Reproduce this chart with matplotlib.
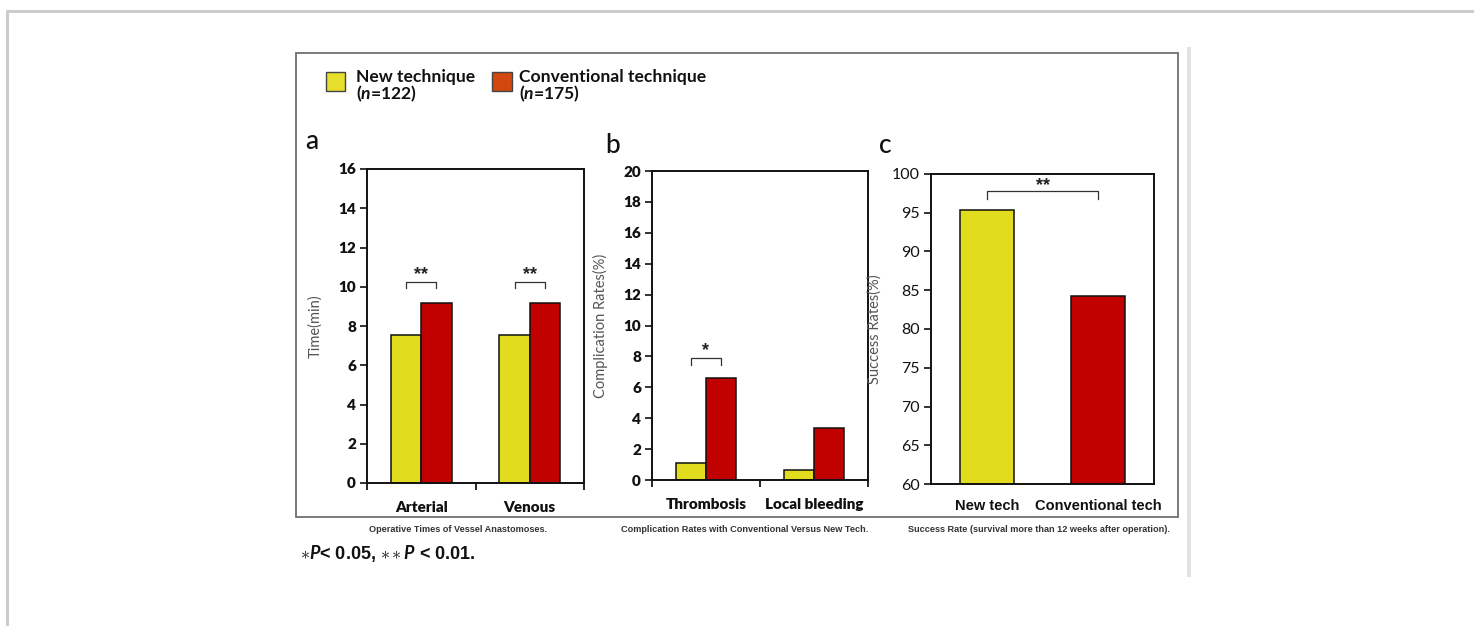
import matplotlib
matplotlib.use("Agg")
import matplotlib.pyplot as plt
from matplotlib.patches import Rectangle
from matplotlib.lines import Line2D
import numpy as np

# ---------------- data ----------------
series_names = ["New technique", "Conventional technique"]
series_n = [122, 175]

a_categories = ["Arterial", "Venous"]
a_new = [7.55, 7.55]
a_conv = [9.15, 9.15]
a_sig = ["**", "**"]
a_bracket = [10.25, 10.25]

b_categories = ["Thrombosis", "Local bleeding"]
b_new = [1.12, 0.65]
b_conv = [6.58, 3.35]
b_sig = ["*", ""]
b_bracket = [7.9, None]

c_categories = ["New tech", "Conventional tech"]
c_values = [95.3, 84.3]
c_sig = "**"
c_bracket = 97.8

ylabels = ["Time(min)", "Complication Rates(%)", "Success Rates(%)"]
ylims = [(0, 16), (0, 20), (60, 100)]
ysteps = [2, 2, 5]
captions = ["Operative Times of Vessel Anastomoses.",
            "Complication Rates with Conventional Versus New Tech.",
            "Success Rate (survival more than 12 weeks after operation)."]
panel_letters = ["a", "b", "c"]

# ---------------- style ----------------
YELLOW = "#e1dd1e"
RED = "#c10000"
LEG_YELLOW = "#e6df2c"
LEG_RED = "#d3480f"

plt.rcParams["font.family"] = ["Lato", "DejaVu Sans"]
plt.rcParams["mathtext.fontset"] = "custom"
plt.rcParams["mathtext.rm"] = "Lato:bold"
plt.rcParams["mathtext.it"] = "Lato:bold:italic"

W, H = 1474, 626
fig = plt.figure(figsize=(W / 100, H / 100), dpi=100)
fig.patch.set_facecolor("white")


def fx(x):
    return x / W


def fy(y):
    return 1 - y / H


def add_rect(x0, y0, x1, y1, **kw):
    fig.add_artist(Rectangle((fx(x0), fy(y1)), fx(x1) - fx(x0), fy(y0) - fy(y1),
                             transform=fig.transFigure, **kw))


def add_line(xs, ys, **kw):
    fig.add_artist(Line2D([fx(v) for v in xs], [fy(v) for v in ys],
                          transform=fig.transFigure, **kw))


# outer page frame
add_line([7, 7, 1474], [626, 11, 11], color="#cccccc", lw=2.2)
# inner figure frame
add_rect(296, 53, 1178, 517, fill=False, edgecolor="#6e6e6e", lw=1.3)
# grey separator on right
add_rect(1187, 47, 1191, 577, facecolor="#e2e2e2", edgecolor="none")

# legend
add_rect(326, 72, 345, 91, facecolor=LEG_YELLOW, edgecolor="#444444", lw=1.0)
add_rect(492, 72, 512, 91, facecolor=LEG_RED, edgecolor="#444444", lw=1.0)
leg_fs = 12.6
fig.text(fx(356), fy(77), series_names[0], fontsize=leg_fs, fontweight="bold",
         ha="left", va="center", color="#111111")
fig.text(fx(356), fy(94), r"($\mathit{n}$=%d)" % series_n[0], fontsize=leg_fs,
         fontweight="bold", ha="left", va="center", color="#111111")
fig.text(fx(519), fy(77), series_names[1], fontsize=leg_fs, fontweight="bold",
         ha="left", va="center", color="#111111")
fig.text(fx(519), fy(94), r"($\mathit{n}$=%d)" % series_n[1], fontsize=leg_fs,
         fontweight="bold", ha="left", va="center", color="#111111")

# axes boxes (pixel extents)
boxes = [(367, 169, 584, 483), (652, 171, 868, 480), (931, 174, 1154, 484)]
axes = []
for (x0, y0, x1, y1) in boxes:
    ax = fig.add_axes([fx(x0), fy(y1), fx(x1) - fx(x0), fy(y0) - fy(y1)])
    axes.append(ax)

letter_pos = [(312, 142), (613, 145), (885, 145)]
ylabel_x = [-0.205, -0.205, -0.22]
caption_pos = [(458, 529), (745, 529), (1039, 529)]


def style_axis(ax, i, bold_ticks=True):
    for s in ax.spines.values():
        s.set_linewidth(1.4)
        s.set_color("#111111")
    lo, hi = ylims[i]
    ax.set_ylim(lo, hi)
    ax.set_yticks(np.arange(lo, hi + 0.01, ysteps[i]))
    ax.tick_params(axis="y", direction="out", length=5, width=1.2,
                   labelsize=11 if bold_ticks else 11.5, pad=3, colors="#111111")
    for t in ax.get_yticklabels():
        t.set_fontweight("heavy" if bold_ticks else "normal")
    ax.set_ylabel(ylabels[i], fontsize=10.5, color="#555555")
    ax.yaxis.set_label_coords(ylabel_x[i], 0.5)
    fig.text(fx(letter_pos[i][0]), fy(letter_pos[i][1]), panel_letters[i],
             fontsize=19, ha="center", va="center", color="#111111",
             fontweight="medium")
    fig.text(fx(caption_pos[i][0]), fy(caption_pos[i][1]), captions[i],
             fontsize=6.6, ha="center", va="center", color="#333333",
             family=["Liberation Sans", "DejaVu Sans"], fontweight="bold")


def bracket(ax, x0, x1, y, label, drop, star_off):
    ax.plot([x0, x0, x1, x1], [y - drop, y, y, y - drop], color="#333333", lw=0.9,
            clip_on=False)
    ax.text((x0 + x1) / 2, y + star_off, label, ha="center", va="center",
            fontsize=13, fontweight="bold", color="#222222",
            family=["Liberation Sans", "DejaVu Sans"])


bw = 0.28

# panel a
ax = axes[0]
x = np.arange(len(a_categories))
ax.bar(x - bw / 2, a_new, bw, color=YELLOW, edgecolor="#111111", lw=1.1)
ax.bar(x + bw / 2, a_conv, bw, color=RED, edgecolor="#111111", lw=1.1)
for xi, s, yb in zip(x, a_sig, a_bracket):
    if s:
        bracket(ax, xi - bw / 2, xi + bw / 2, yb, s, 0.3, 0.35)
ax.set_xlim(-0.5, len(a_categories) - 0.5)
style_axis(ax, 0)

# panel b
ax = axes[1]
x = np.arange(len(b_categories))
ax.bar(x - bw / 2, b_new, bw, color=YELLOW, edgecolor="#111111", lw=1.1)
ax.bar(x + bw / 2, b_conv, bw, color=RED, edgecolor="#111111", lw=1.1)
for xi, s, yb in zip(x, b_sig, b_bracket):
    if s:
        bracket(ax, xi - bw / 2, xi + bw / 2, yb, s, 0.45, 0.45)
ax.set_xlim(-0.5, len(b_categories) - 0.5)
style_axis(ax, 1)

# panel c
ax = axes[2]
x = np.arange(len(c_categories))
ax.bar(x, c_values, 0.48, bottom=0, color=[YELLOW, RED], edgecolor="#111111", lw=1.1)
bracket(ax, x[0], x[1], c_bracket, c_sig, 1.0, 0.7)
ax.set_xlim(-0.5, len(c_categories) - 0.5)
style_axis(ax, 2, bold_ticks=False)

# x ticks: boundaries for a and b, category labels as minor ticks
for i, (ax, cats) in enumerate(zip(axes, [a_categories, b_categories, c_categories])):
    n = len(cats)
    if i < 2:
        ax.set_xticks(np.arange(-0.5, n, 1.0))
        ax.tick_params(axis="x", which="major", direction="out", length=5,
                       width=1.2, labelbottom=False)
    else:
        ax.set_xticks([])
    ax.set_xticks(np.arange(n), minor=True)
    if i < 2:
        ax.set_xticklabels(cats, minor=True, fontsize=11, fontweight="heavy",
                           color="#111111")
    else:
        ax.set_xticklabels(cats, minor=True, fontsize=10.5, fontweight="bold",
                           color="#111111", family=["Liberation Sans", "DejaVu Sans"])
    ax.tick_params(axis="x", which="minor", length=0, pad=13 if i < 2 else 11)

# footnote
fig.text(fx(300), fy(554), r"$\ast\mathit{P}$< 0.05, $\ast\ast\mathit{P}$ < 0.01.",
         fontsize=13, ha="left", va="center", color="#111111", fontweight="bold",
         family=["Liberation Sans", "DejaVu Sans"])

fig.savefig("out.png", dpi=100, facecolor="white")
